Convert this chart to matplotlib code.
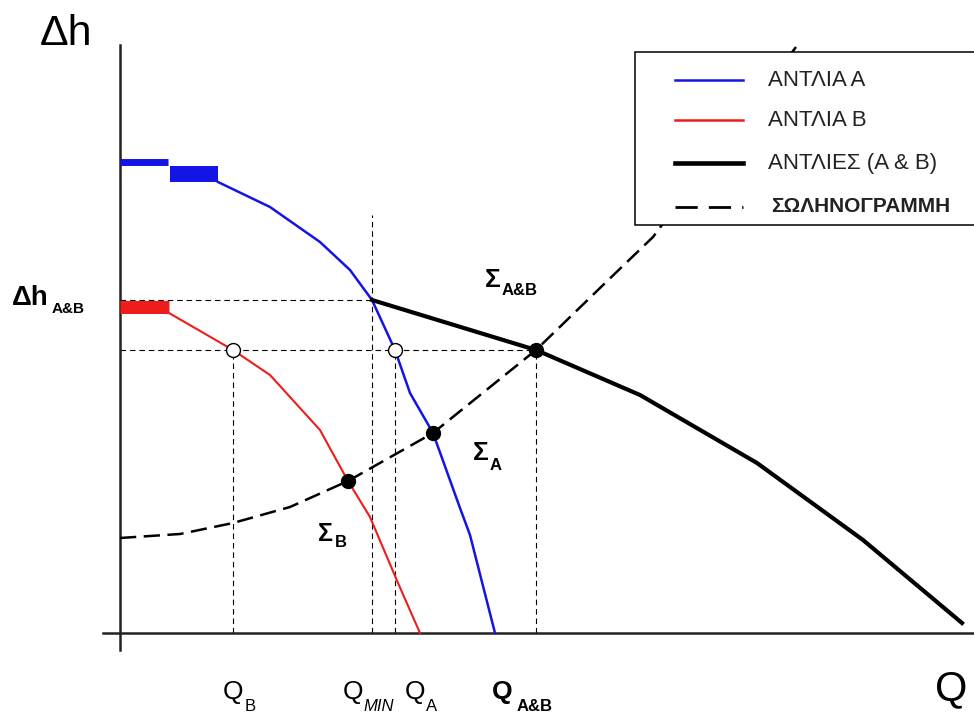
import numpy as np
import matplotlib.pyplot as plt
from matplotlib.patches import Rectangle

plt.rcParams['font.family'] = ['Liberation Sans', 'DejaVu Sans']

# Pump A curve (flow Q, head H)
pump_a_q = [98, 150, 200, 230, 252, 275, 290, 313, 340, 350, 375]
pump_a_h = [451, 426, 391, 363, 333, 283, 240, 200, 125, 98, 0]

# Pump B curve
pump_b_q = [49, 113, 150, 200, 228, 250, 278, 300]
pump_b_h = [320, 283, 258, 203, 152, 116, 50, 0]

# Pumps A & B together
comb_q = [252, 416, 520, 637, 743, 842]
comb_h = [333, 283, 238, 170, 93, 10]

# System curve
sys_q = [0, 60, 113, 170, 228, 313, 416, 480, 533, 600, 640, 676]
sys_h = [95, 99, 110, 126, 152, 200, 283, 345, 396, 486, 538, 586]

# Shut-off head plateaus
a_shut = [(0, 48, 471.5, 5.0), (50, 98, 459, 11.5)]
b_shut = [(0, 49, 326.5, 9.4)]

# Operating points
q_ab, h_ab = 416, 283
q_min, h_min = 252, 333
q_a_open, q_b_open = 275, 113
sig_a = (313, 200)
sig_b = (228, 152)

legend_labels = ['ΑΝΤΛΙΑ Α', 'ΑΝΤΛΙΑ Β', 'ΑΝΤΛΙΕΣ (Α & Β)', 'ΣΩΛΗΝΟΓΡΑΜΜΗ']

fig = plt.figure(figsize=(9.74, 7.13), dpi=100)
ax = fig.add_axes([0, 0, 1, 1])
ax.set_xlim(-120, 854)
ax.set_ylim(-80, 633)
ax.axis('off')

# axes lines
ax.plot([0, 0], [-17, 588], color='#222222', lw=1.8, zorder=3)
ax.plot([-17, 854], [0, 0], color='#222222', lw=1.8, zorder=3)

# guide lines
guide = dict(color='black', lw=0.8, dashes=(5, 3.5), zorder=2)
ax.plot([0, q_min], [h_min, h_min], **guide)
ax.plot([0, q_ab], [h_ab, h_ab], **guide)
ax.plot([q_min, q_min], [0, 418], **guide)
ax.plot([q_b_open, q_b_open], [0, h_ab], **guide)
ax.plot([q_a_open, q_a_open], [0, h_ab], **guide)
ax.plot([q_ab, q_ab], [0, h_ab], **guide)

blue = '#1414e6'
red = '#ee1c1c'

for x0, x1, h, w in a_shut:
    ax.plot([x0, x1], [h, h], color=blue, lw=w, solid_capstyle='butt', zorder=4)
for x0, x1, h, w in b_shut:
    ax.plot([x0, x1], [h, h], color=red, lw=w, solid_capstyle='butt', zorder=4)

ax.plot(pump_a_q, pump_a_h, color=blue, lw=1.8, zorder=4)
ax.plot(pump_b_q, pump_b_h, color=red, lw=1.5, zorder=4)
ax.plot(comb_q, comb_h, color='black', lw=3.0, zorder=5)
ax.plot(sys_q, sys_h, color='black', lw=1.8, dashes=(6.5, 3), zorder=5)

# points
ax.plot([q_b_open, q_a_open], [h_ab, h_ab], 'o', ms=10, mfc='white', mec='black', mew=1.0, zorder=6)
ax.plot([sig_b[0], sig_a[0], q_ab], [sig_b[1], sig_a[1], h_ab], 'o', ms=10, color='black', zorder=6)

# legend box
ax.add_patch(Rectangle((515, 408), 360, 173, facecolor='white', edgecolor='black', lw=1.1, zorder=8))
leg_h = [553, 513, 470, 426]
ax.plot([555, 623], [leg_h[0]] * 2, color=blue, lw=1.8, zorder=9)
ax.plot([555, 623], [leg_h[1]] * 2, color=red, lw=1.8, zorder=9)
ax.plot([555, 623], [leg_h[2]] * 2, color='black', lw=3.3, zorder=9)
ax.plot([555, 623], [leg_h[3]] * 2, color='black', lw=2.0, dashes=(8, 4), zorder=9)
for i, lab in enumerate(legend_labels):
    bold = i == 3
    ax.text(651 if bold else 648, leg_h[i], lab, fontsize=15 if bold else 16,
            fontweight='bold' if bold else 'normal', va='center', ha='left',
            color='#222222', zorder=10)

# axis titles
ax.text(-80, 588, 'Δh', fontsize=31, va='baseline', ha='left')
ax.text(815, -67, 'Q', fontsize=30, va='baseline', ha='left')

# head label
ax.text(-108, 328, 'Δh', fontsize=20, fontweight='bold', va='baseline')
ax.text(-68, 320, 'A&B', fontsize=11, fontweight='bold', va='baseline')

# operating point labels
ax.text(365, 346, 'Σ', fontsize=19, fontweight='bold', va='baseline')
ax.text(382, 338, 'A&B', fontsize=12, fontweight='bold', va='baseline')
ax.text(353, 173, 'Σ', fontsize=19, fontweight='bold', va='baseline')
ax.text(370, 163, 'A', fontsize=12, fontweight='bold', va='baseline')
ax.text(198, 92, 'Σ', fontsize=18, fontweight='bold', va='baseline')
ax.text(215, 86, 'B', fontsize=12, fontweight='bold', va='baseline')

# flow labels
ax.text(103, -66, 'Q', fontsize=19, va='baseline')
ax.text(125, -78, 'B', fontsize=12, va='baseline')
ax.text(223, -66, 'Q', fontsize=19, va='baseline')
ax.text(243, -78, 'MIN', fontsize=12, style='italic', va='baseline')
ax.text(285, -66, 'Q', fontsize=19, va='baseline')
ax.text(306, -78, 'A', fontsize=12, va='baseline')
ax.text(372, -66, 'Q', fontsize=19, fontweight='bold', va='baseline')
ax.text(397, -78, 'A&B', fontsize=12, fontweight='bold', va='baseline')

fig.savefig('out.png', dpi=100, facecolor='white')
